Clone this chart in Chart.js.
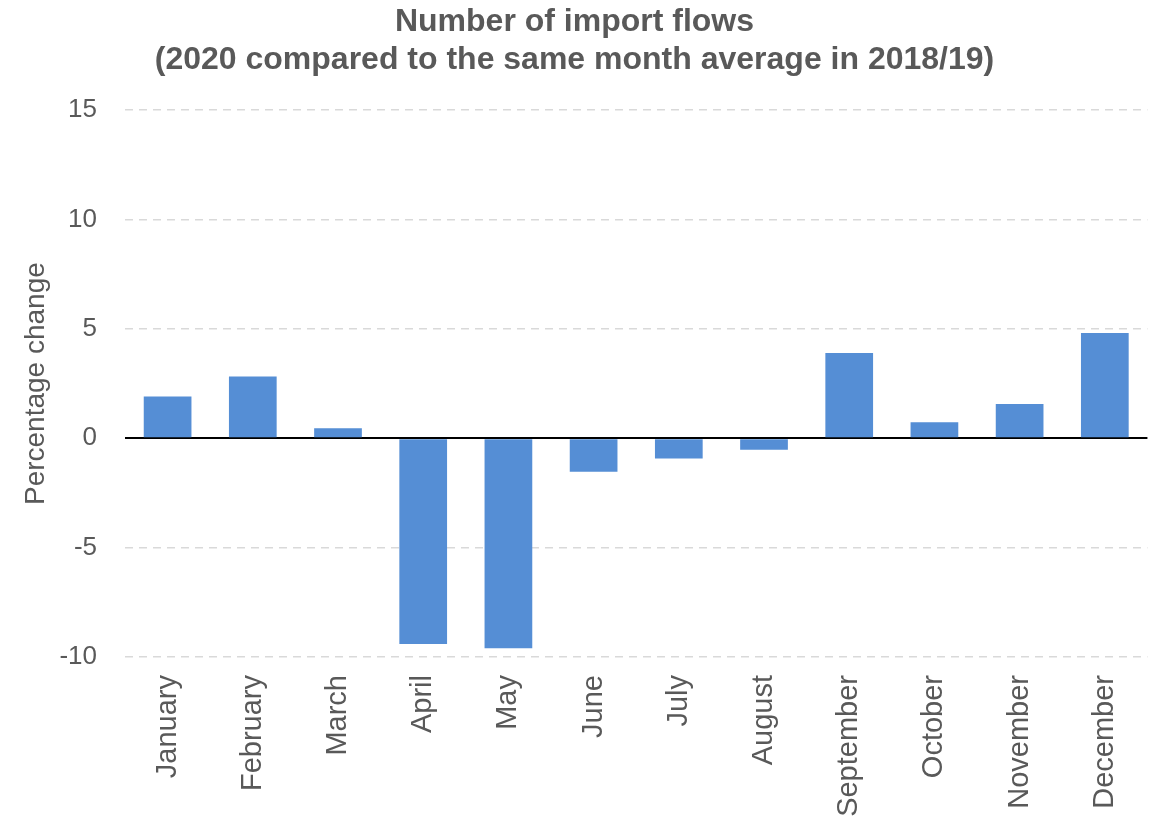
<!DOCTYPE html>
<html>
<head>
<meta charset="utf-8">
<script src="https://cdn.jsdelivr.net/npm/chart.js@4/dist/chart.umd.min.js"></script>
<style>
  html, body { margin: 0; padding: 0; background: #fff; overflow: hidden; }
  #wrap { width: 1158px; height: 816px; }
</style>
</head>
<body>
<div id="wrap"><canvas id="chart" width="1158" height="816"></canvas></div>
<script>
// chart data
const months = ["January", "February", "March", "April", "May", "June",
  "July", "August", "September", "October", "November", "December"];
const pctChange = [1.91, 2.83, 0.46, -9.4, -9.6, -1.53, -0.92, -0.52, 3.9, 0.73, 1.57, 4.82];
const titleLines = ["Number of import flows", "(2020 compared to the same month average in 2018/19)"];
const yAxisLabel = "Percentage change";
const yMin = -10, yMax = 15, yStep = 5;

const textColor = "#595959";
Chart.defaults.font.family = "Arial, 'Liberation Sans', sans-serif";
Chart.defaults.color = textColor;

const ctx = document.getElementById("chart").getContext("2d");
new Chart(ctx, {
  type: "bar",
  data: {
    labels: months,
    datasets: [{
      label: yAxisLabel,
      data: pctChange,
      backgroundColor: "#558ed5",
      barPercentage: 0.56,
      categoryPercentage: 1.0,
    }],
  },
  options: {
    responsive: false,
    animation: false,
    layout: { padding: { left: 0, right: 9, top: 0, bottom: 0 } },
    plugins: {
      legend: { display: false },
      tooltip: { enabled: false },
      title: {
        display: true,
        text: titleLines,
        color: textColor,
        font: { size: 32, weight: "bold", lineHeight: 1.16 },
        padding: { top: 4, bottom: 32 },
      },
    },
    scales: {
      x: {
        grid: { display: false, drawTicks: false },
        border: { display: false },
        ticks: {
          color: textColor,
          font: { size: 29 },
          minRotation: 90,
          maxRotation: 90,
          autoSkip: false,
          padding: 18,
        },
        afterFit(scale) { scale.height = 159; },
      },
      y: {
        min: yMin,
        max: yMax,
        grid: {
          drawTicks: false,
          color: (c) => (c.tick && c.tick.value === 0 ? "#000000" : "#d9d9d9"),
          lineWidth: (c) => (c.tick && c.tick.value === 0 ? 2 : 1.5),
        },
        border: {
          display: false,
          dash: (c) => (c.tick && c.tick.value === 0 ? [] : [8, 6]),
        },
        ticks: {
          stepSize: yStep,
          color: textColor,
          font: { size: 26 },
          padding: 28,
        },
        title: {
          display: true,
          text: yAxisLabel,
          color: textColor,
          font: { size: 28 },
          padding: { top: 19, bottom: 0 },
        },
        afterFit(scale) { scale.width = 125; },
      },
    },
  },
});
</script>
</body>
</html>
